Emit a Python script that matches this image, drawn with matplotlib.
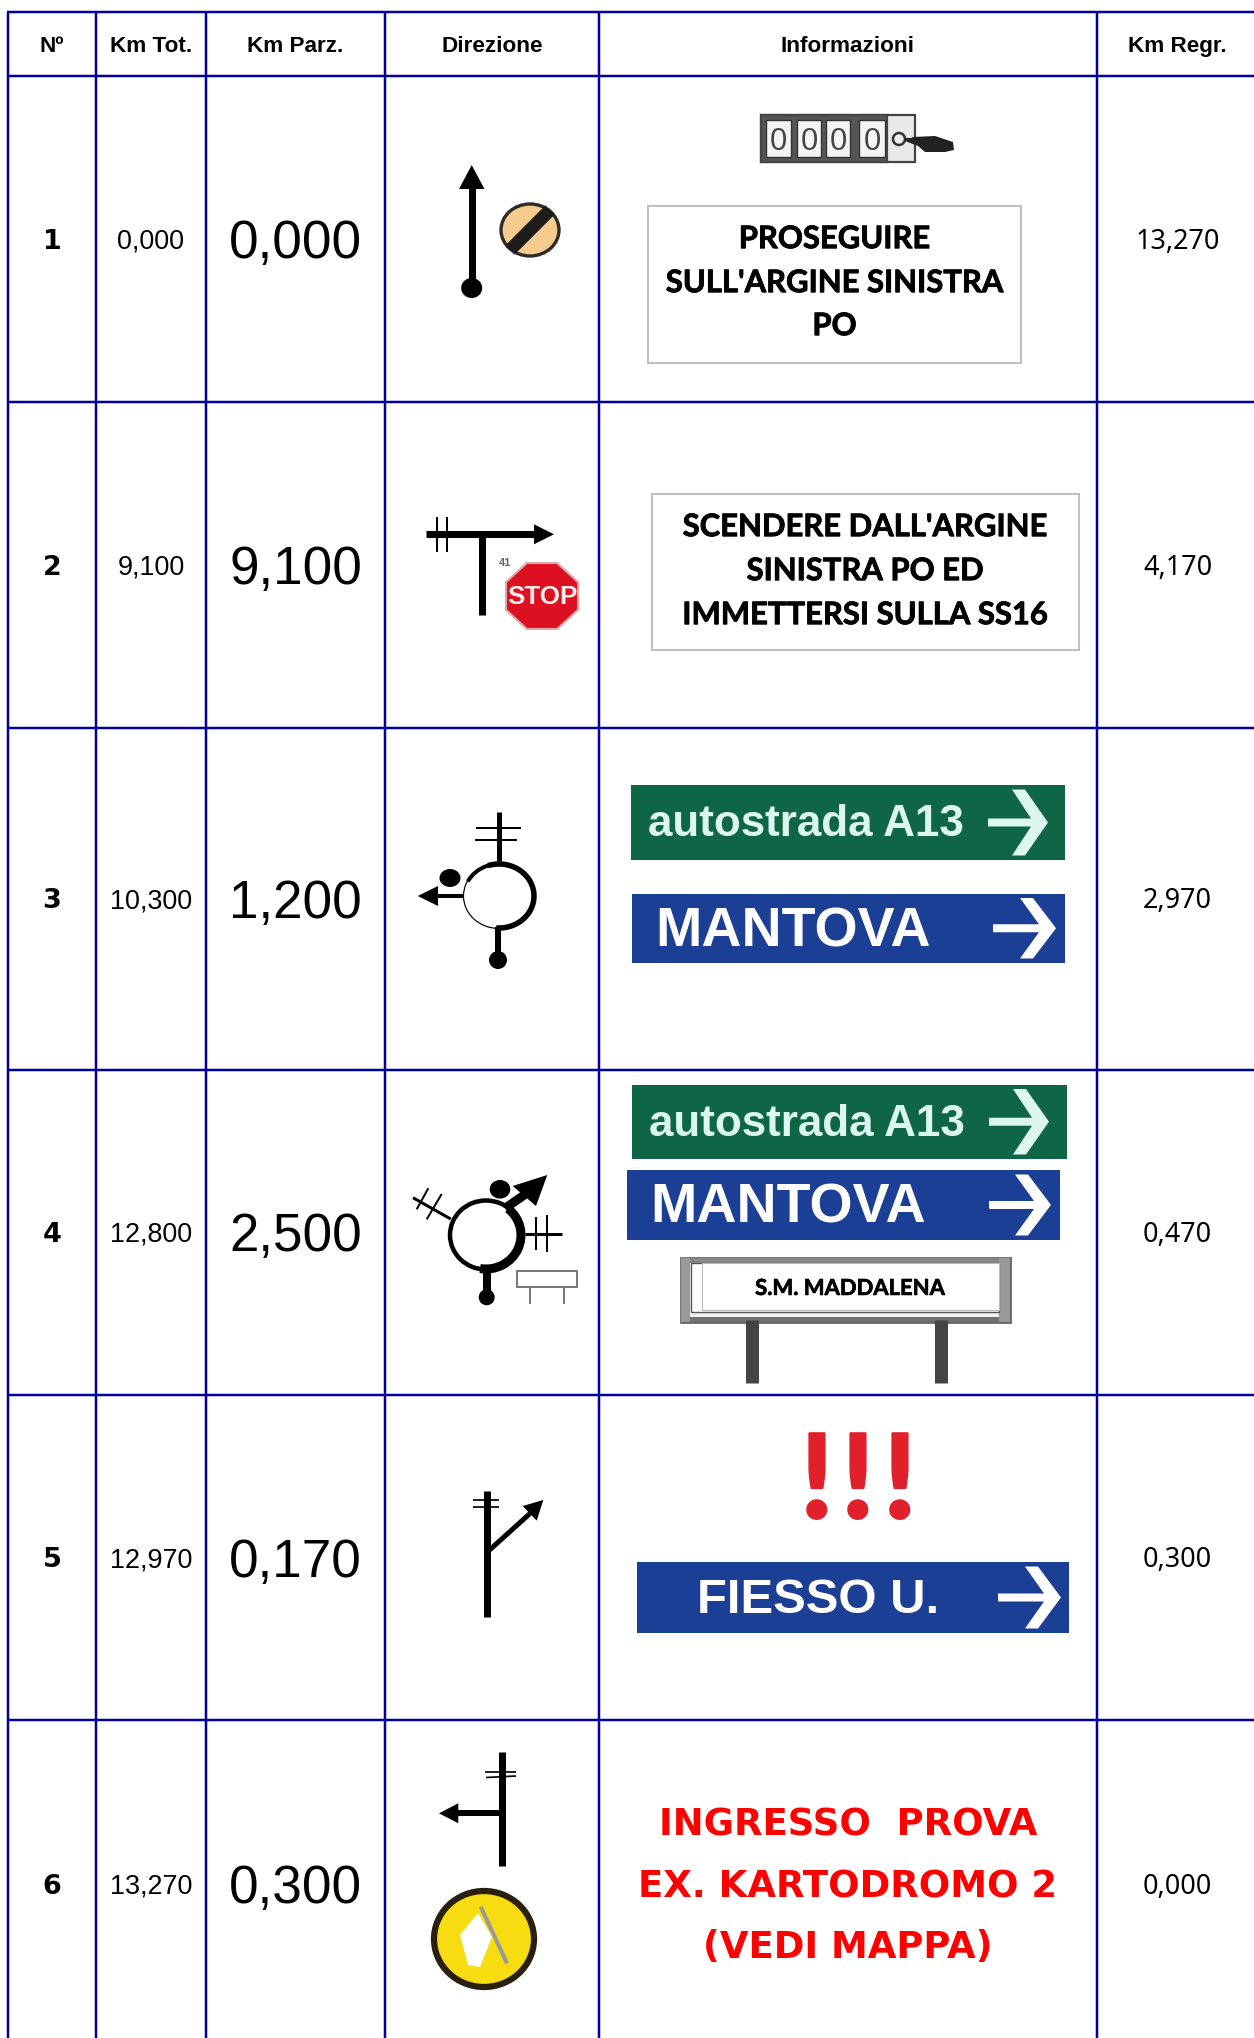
import matplotlib
matplotlib.use("Agg")
import matplotlib.pyplot as plt
import matplotlib.patheffects as pe
from matplotlib.patches import Ellipse, Arc, Polygon, Rectangle

# table content
headers = ["Nº", "Km Tot.", "Km Parz.", "Direzione", "Informazioni", "Km Regr."]
numbers = ["1", "2", "3", "4", "5", "6"]
km_tot = ["0,000", "9,100", "10,300", "12,800", "12,970", "13,270"]
km_parz = ["0,000", "9,100", "1,200", "2,500", "0,170", "0,300"]
km_regr = ["13,270", "4,170", "2,970", "0,470", "0,300", "0,000"]
box_text_1 = ["PROSEGUIRE", "SULL'ARGINE SINISTRA", "PO"]
box_text_2 = ["SCENDERE DALL'ARGINE", "SINISTRA PO ED", "IMMETTERSI SULLA SS16"]
red_text = ["INGRESSO  PROVA", "EX. KARTODROMO 2", "(VEDI MAPPA)"]
odometer = ["0", "0", "0", "0"]

# grid, in pixels of the picture
col_edges = [8, 96, 206, 385, 599, 1097, 1258]
row_edges = [12, 76, 402, 728, 1069.5, 1395, 1720, 2048]

W, H = 1254, 2038
NAVY = "#00009c"
GREEN = "#0f6647"
BLUE = "#1b3f94"
MINT = "#dcf7ee"

fig = plt.figure(figsize=(W / 100, H / 100), dpi=100)
ax = fig.add_axes([0, 0, 1, 1])
ax.set_xlim(0, W)
ax.set_ylim(H, 0)
ax.axis("off")


def txt(x, yc, s, size, family="Liberation Sans", weight="normal", color="black", cap=0.72, fat=0):
    # yc is the middle of the capitals, size in pixels
    t = ax.text(x, yc + cap * size / 2, s, fontsize=size * 0.72, family=family, weight=weight,
                color=color, ha="center", va="baseline")
    if fat:
        t.set_path_effects([pe.withStroke(linewidth=fat, foreground=color)])


def line(x0, y0, x1, y1, w, color="black", cap="butt"):
    ax.plot([x0, x1], [y0, y1], color=color, lw=w * 0.72, solid_capstyle=cap)


def poly(pts, color="black", **kw):
    ax.add_patch(Polygon(pts, closed=True, facecolor=color, edgecolor="none", **kw))


def dot(x, y, rx, ry=None, color="black"):
    ax.add_patch(Ellipse((x, y), 2 * rx, 2 * (ry or rx), facecolor=color, edgecolor="none"))


def ring(x, y, rx, ry, w, a0=0, a1=360):
    ax.add_patch(Arc((x, y), 2 * rx, 2 * ry, theta1=a0, theta2=a1, color="black", lw=w * 0.72))


def road_sign(x0, x1, y0, y1, face, s, tx, size, ink, ax0, axt):
    ax.add_patch(Rectangle((x0, y0), x1 - x0, y1 - y0, facecolor=face, edgecolor="none"))
    yc = (y0 + y1) / 2
    txt(tx, yc - 2, s, size, weight="bold", color=ink)
    h = (y1 - y0) / 2 - 4.5
    poly([(ax0, yc - 4), (axt - 17, yc - 4), (axt - 36, yc - h), (axt - 23, yc - h), (axt, yc),
          (axt - 23, yc + h), (axt - 36, yc + h), (axt - 17, yc + 4), (ax0, yc + 4)], ink)


# grid
for x in col_edges[:-1]:
    line(x, row_edges[0], x, H, 2.5, NAVY)
for y in row_edges[:-1]:
    line(col_edges[0] - 1, y, W, y, 2.5, NAVY)

# header and value columns
col_mid = [(col_edges[i] + col_edges[i + 1]) / 2 for i in range(6)]
for i, h in enumerate(headers):
    txt(col_mid[i], 44, h, 22.5, weight="bold")
for i in range(6):
    yc = (row_edges[i + 1] + row_edges[i + 2]) / 2
    txt(col_mid[0], yc, numbers[i], 27, family="DejaVu Sans", weight="bold")
    txt(col_mid[1], yc, km_tot[i], 27)
    txt(col_mid[2], yc, km_parz[i], 53)
    txt(col_mid[5], yc, km_regr[i], 27, family="Noto Sans")

# row 1: direction
line(471.7, 185, 471.7, 288, 7)
poly([(471.7, 165), (459, 189), (484.5, 189)])
dot(471.7, 288, 10.5, 10)
ax.add_patch(Ellipse((530, 230), 58, 52, facecolor="#f6cb8e", edgecolor="#2e2a26", lw=2.4))
line(510, 250, 550, 210, 13, "#1e1c1a")

# row 1: odometer and box
ax.add_patch(Rectangle((761, 115), 154, 46.5, facecolor="#e9e9e9", edgecolor="#444444", lw=1.6))
ax.add_patch(Rectangle((761, 115), 126, 46.5, facecolor="#555555", edgecolor="#444444", lw=1.6))
for x0, x1, s in zip([766, 797, 826, 859], [791, 821, 850, 885], odometer):
    ax.add_patch(Rectangle((x0, 120), x1 - x0, 37, facecolor="#f4f4f4", edgecolor="#333333", lw=1))
    txt((x0 + x1) / 2, 139, s, 31, color="#444444")
ax.add_patch(Ellipse((899, 139), 12, 12, facecolor="#eeeeee", edgecolor="#333333", lw=1.8))
line(905, 139, 920, 140, 2.5, "#222222")
poly([(913, 137), (935, 136), (953, 142), (954, 150), (945, 152), (925, 152), (918, 146), (905, 141)], "#222222")

ax.add_patch(Rectangle((648, 205.5), 373, 157, facecolor="white", edgecolor="#c0c0c0", lw=1.5))
for y, s in zip([237, 281, 324], box_text_1):
    txt(834.5, y, s, 31, family="Lato", weight="bold", fat=0.6)

# row 2: direction
line(425.7, 534.3, 540, 534.3, 7)
poly([(554, 534.3), (534, 524.3), (534, 544.3)])
line(482.3, 534, 482.3, 615, 7)
line(436.7, 517, 436.7, 551.7, 2)
line(447.3, 517, 447.3, 551.7, 2)
txt(505, 562, "41", 11, weight="bold", color="#666666")
cx, cy, a, b = 542, 596, 36, 33
oct_pts = [(cx - a * .42, cy - b), (cx + a * .42, cy - b), (cx + a, cy - b * .42), (cx + a, cy + b * .42),
           (cx + a * .42, cy + b), (cx - a * .42, cy + b), (cx - a, cy + b * .42), (cx - a, cy - b * .42)]
ax.add_patch(Polygon(oct_pts, closed=True, facecolor="#dc1020", edgecolor="#dca8a8", lw=1.5))
txt(cx, cy - 1, "STOP", 26, weight="bold", color="#fdeeee")

# row 2: box
ax.add_patch(Rectangle((652, 494), 427, 155.5, facecolor="white", edgecolor="#c0c0c0", lw=1.5))
for y, s in zip([525, 569, 613], box_text_2):
    txt(865, y, s, 31, family="Lato", weight="bold", fat=0.6)

# row 3: direction
ring(499, 896, 35.5, 32.5, 1.2)
ring(499, 896, 35, 32, 5.5, -110, 95)
ring(499, 896, 35, 32, 4, 205, 290)
line(499.3, 812, 499.3, 861, 5)
line(475.7, 827.7, 520.7, 827.7, 2)
line(474.5, 840, 516.7, 840, 2)
line(463, 896, 434, 896, 4)
poly([(417.7, 896), (438, 886), (438, 906)])
dot(450, 878, 10.5, 9)
line(497.7, 927, 497.7, 960, 6)
dot(498, 960, 9)

# row 3: signs
road_sign(631, 1065, 785, 860, GREEN, "autostrada A13", 806, 44, MINT, 988, 1048)
road_sign(632, 1065, 893.5, 963, BLUE, "MANTOVA", 793, 55.5, "white", 993, 1056)

# row 4: direction
ring(486, 1235, 36, 34.5, 4.5)
ring(486, 1235, 35, 34, 9, -50, 100)
line(450.7, 1219, 413, 1197.7, 3)
line(428.3, 1188.3, 416.7, 1209.3, 2)
line(441.7, 1194, 426.7, 1219.3, 2)
line(525, 1234.3, 561.7, 1234.3, 3)
line(535.7, 1217.3, 535.7, 1250, 2)
line(547, 1215, 547, 1251.7, 2)
line(505, 1208.3, 530, 1191, 9)
poly([(547.3, 1175), (512.7, 1186), (536, 1206)])
dot(500, 1189.3, 10.3, 9.3)
line(486.7, 1270, 486.7, 1297, 8)
dot(486.7, 1297.3, 8)
ax.add_patch(Rectangle((517.3, 1271), 59.3, 16, facecolor="white", edgecolor="#777777", lw=1.4))
line(530, 1287, 530, 1304, 2, "#777777")
line(564.3, 1287, 564.3, 1304, 2, "#777777")

# row 4: signs
road_sign(632, 1067, 1084.5, 1159, GREEN, "autostrada A13", 807, 44, MINT, 989, 1049)
road_sign(627, 1060, 1170, 1240, BLUE, "MANTOVA", 788, 55.5, "white", 989, 1051)
line(751.5, 1320, 751.5, 1383, 13, "#444444")
line(940.5, 1320, 940.5, 1383, 13, "#444444")
ax.add_patch(Rectangle((681, 1258), 329, 64, facecolor="#f2f2f2", edgecolor="#666666", lw=2))
ax.add_patch(Rectangle((681, 1258), 329, 5, facecolor="#888888", edgecolor="none"))
ax.add_patch(Rectangle((681, 1317), 329, 5, facecolor="#707070", edgecolor="none"))
ax.add_patch(Rectangle((681, 1258), 9, 64, facecolor="#999999", edgecolor="none"))
ax.add_patch(Rectangle((999, 1258), 11, 64, facecolor="#999999", edgecolor="none"))
ax.add_patch(Rectangle((691, 1263), 308, 49, facecolor="white", edgecolor="#555555", lw=1))
ax.add_patch(Rectangle((702, 1263), 297, 47, facecolor="white", edgecolor="#bbbbbb", lw=0.8))
txt(850, 1287, "S.M. MADDALENA", 22, family="Lato", weight="bold", fat=0.5)

# row 5: direction
line(487.3, 1491, 487.3, 1616.7, 7)
line(472.7, 1500, 499, 1500, 1.7)
line(472.7, 1507, 499, 1507, 1.7)
line(487.3, 1552, 530, 1513.5, 5)
poly([(543.3, 1500), (522.7, 1506), (536.7, 1520.7)])

# row 5: exclamation marks and sign
for x in [817, 858, 900]:
    txt(x, 1476, "!", 117, family="Lato", weight=900, color="#e0202a", fat=1.5)
road_sign(637, 1069, 1562, 1633, BLUE, "FIESSO U.", 818, 49, "white", 998, 1061)

# row 6: direction
line(502.3, 1751.7, 502.3, 1865.7, 7)
line(485, 1771.7, 516, 1771.7, 1.7)
line(486, 1777.5, 516, 1776, 1.7)
line(502, 1813.3, 455, 1813.3, 6)
poly([(439, 1813.3), (458.3, 1803.3), (458.3, 1823.3)])
ax.add_patch(Ellipse((484, 1939), 100, 96, facecolor="#f6dc10", edgecolor="#2a2010", lw=4.5))
poly([(478, 1913), (492, 1937), (480, 1967), (468, 1965), (460, 1935)], "white")
line(480.7, 1906.7, 507, 1963.3, 4, "#999999")

# row 6: text
for y, s in zip([1822, 1884, 1945], red_text):
    txt(848, y, s, 37, family="DejaVu Sans", weight="bold", color="#ff0000")

fig.savefig("out.png", dpi=100)
